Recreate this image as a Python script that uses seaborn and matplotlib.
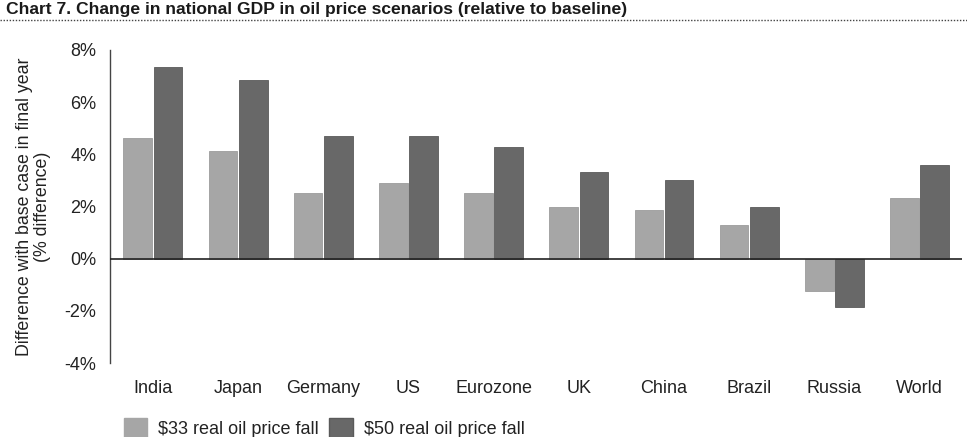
import matplotlib
matplotlib.use("Agg")
import matplotlib.pyplot as plt
import seaborn as sns
import pandas as pd
from matplotlib.lines import Line2D
from matplotlib.patches import Patch

categories = ["India", "Japan", "Germany", "US", "Eurozone", "UK", "China", "Brazil", "Russia", "World"]
fall_33 = [4.62, 4.14, 2.52, 2.9, 2.52, 1.99, 1.88, 1.3, -1.25, 2.31]
fall_50 = [7.34, 6.86, 4.71, 4.71, 4.28, 3.32, 3.0, 1.99, -1.85, 3.59]
series_names = ["$33 real oil price fall", "$50 real oil price fall"]
yticks = [-4, -2, 0, 2, 4, 6, 8]

df = pd.DataFrame({
    "country": categories * 2,
    "value": fall_33 + fall_50,
    "scenario": [series_names[0]] * len(categories) + [series_names[1]] * len(categories),
})

sns.set_theme(style="white")
plt.rcParams["font.family"] = ["Liberation Sans", "DejaVu Sans"]

fig = plt.figure(figsize=(9.67, 4.37), dpi=100)
ax = fig.add_axes([0.114, 0.1693, 0.881, 0.7163])

colors = ["#a6a6a6", "#686868"]
sns.barplot(data=df, x="country", y="value", hue="scenario", order=categories,
            hue_order=series_names, palette=colors, width=0.71, gap=0.05,
            ax=ax, legend=False, saturation=1)
for i, p in enumerate(ax.patches):
    p.set_edgecolor("#5a5a5a" if i >= len(categories) else "#9c9c9c")
    p.set_linewidth(0.6)

ax.set_ylim(-4, 8)
ax.set_yticks(yticks)
ax.set_yticklabels([f"{t}%" for t in yticks], fontsize=13, color="#222222")
ax.set_xlim(-0.5, len(categories) - 0.5)
ax.tick_params(axis="x", labelsize=13, colors="#222222", length=0, pad=12)
ax.tick_params(axis="y", length=0, pad=10)
ax.set_xlabel("")
ax.set_ylabel("Difference with base case in final year\n(% difference)", fontsize=12.8,
              color="#222222", labelpad=10, linespacing=1.05)
ax.axhline(0, color="#222222", linewidth=1.2, zorder=5)
for s in ["top", "right", "bottom"]:
    ax.spines[s].set_visible(False)
ax.spines["left"].set_color("#444444")
ax.spines["left"].set_linewidth(1.0)
ax.grid(False)

fig.text(0.006, 0.978, "Chart 7. Change in national GDP in oil price scenarios (relative to baseline)",
         fontsize=12.6, fontweight="bold", ha="left", va="center", color="#1a1a1a")
fig.add_artist(Line2D([0.0, 1.0], [0.955, 0.955], transform=fig.transFigure,
                      color="#444444", linewidth=1.0, linestyle=(0, (1, 1.2))))

handles = [Patch(facecolor=colors[0], edgecolor=colors[0]),
           Patch(facecolor=colors[1], edgecolor="#5a5a5a")]
labels = [n.replace("$", r"\$") for n in series_names]
fig.legend(handles, labels, loc="lower left", bbox_to_anchor=(0.111, -0.04), ncol=2,
           frameon=False, fontsize=13, handlelength=1.3, handleheight=1.3,
           handletextpad=0.6, columnspacing=0.6, labelcolor="#222222")

fig.savefig("out.png", dpi=100)
